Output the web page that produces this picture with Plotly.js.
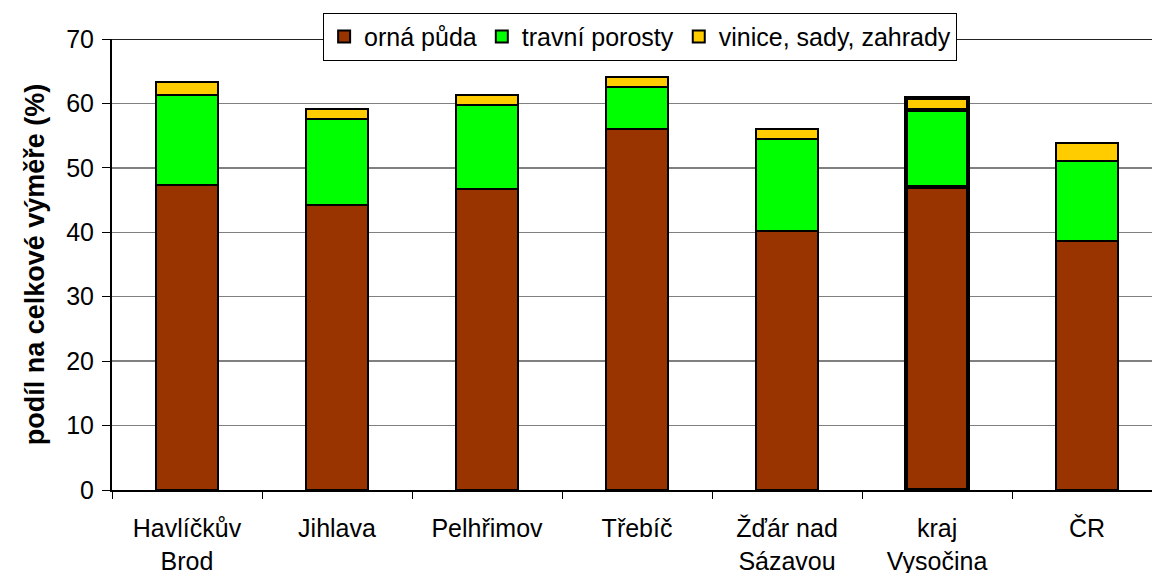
<!DOCTYPE html>
<html>
<head>
<meta charset="utf-8">
<script src="https://cdn.plot.ly/plotly-3.0.1.min.js"></script>
<style>html,body{margin:0;padding:0;overflow:hidden;background:#fff}</style>
</head>
<body>
<div id="chart" style="width:1152px;height:573px"></div>
<script>
const categories = ["Havlíčkův<br>Brod", "Jihlava", "Pelhřimov", "Třebíč", "Žďár nad<br>Sázavou", "kraj<br>Vysočina", "ČR"];
const ornaPuda = [47.3, 44.2, 46.7, 56.0, 40.2, 47.1, 38.6];
const travniPorosty = [14.0, 13.4, 13.1, 6.5, 14.3, 11.9, 12.5];
const viniceSady = [2.0, 1.5, 1.5, 1.6, 1.5, 1.8, 2.8];
const seriesNames = ["orná půda", "travní porosty", "vinice, sady, zahrady"];
const yTicks = [0, 10, 20, 30, 40, 50, 60, 70];

const lineW = [2, 2, 2, 2, 2, 4, 2];
const font = "Liberation Sans, Arial, sans-serif";
function mk(y, name, color) {
  return {type: "bar", x: categories, y: y, name: name, width: 0.41,
    marker: {color: color, line: {color: "#000", width: lineW}},
    hoverinfo: "y"};
}
const data = [
  mk(ornaPuda, seriesNames[0], "#993300"),
  mk(travniPorosty, seriesNames[1], "#00ff00"),
  mk(viniceSady, seriesNames[2], "#ffcc00")
];
const layout = {
  width: 1152, height: 573,
  margin: {l: 112, r: 0, t: 39, b: 83},
  barmode: "stack",
  paper_bgcolor: "#fff", plot_bgcolor: "#fff",
  font: {family: font, size: 25, color: "#000"},
  xaxis: {type: "category", range: [-0.5, 6.433], showline: true, linecolor: "#000", linewidth: 2,
    ticks: "outside", tickson: "boundaries", ticklen: 7, tickcolor: "#000", tickwidth: 1,
    tickfont: {size: 25}, ticklabelstandoff: 15, showgrid: false, fixedrange: true},
  yaxis: {range: [0, 70], tickvals: yTicks, showline: true, linecolor: "#000", linewidth: 2,
    ticks: "outside", ticklen: 8, tickcolor: "#000", tickwidth: 1, ticklabelstandoff: 3,
    gridcolor: "#808080", gridwidth: 1.5, zeroline: false, tickfont: {size: 25},
    title: {text: "<b>podíl na celkové výměře (%)</b>", font: {size: 27}, standoff: 14}},
  shapes: [{type: "line", xref: "paper", yref: "y", x0: 0, x1: 1, y0: 70, y1: 70,
    line: {color: "#222", width: 2}}],
  legend: {orientation: "h", x: 0.203, xanchor: "left", y: 1.058, yanchor: "top",
    bgcolor: "#fff", bordercolor: "#000", borderwidth: 1, traceorder: "normal",
    font: {size: 25}, itemwidth: 30, tracegroupgap: 0},
  showlegend: true
};
Plotly.newPlot("chart", data, layout, {displayModeBar: false, staticPlot: true});
</script>
</body>
</html>
